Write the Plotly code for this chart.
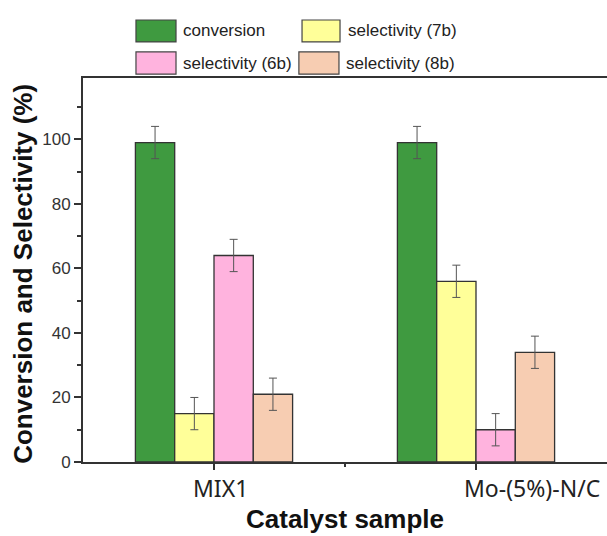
import plotly.graph_objects as go

# Catalyst samples and measured values (%)
samples = ["MIX1", "Mo-(5%)-N/C"]
series_names = ["conversion", "selectivity (7b)", "selectivity (6b)", "selectivity (8b)"]
conversion = [99, 99]
selectivity_7b = [15, 56]
selectivity_6b = [64, 10]
selectivity_8b = [21, 34]
errors = [5, 5]

series_values = [conversion, selectivity_7b, selectivity_6b, selectivity_8b]
colors = ["#3f9a40", "#ffff99", "#ffb3de", "#f7cdb2"]

x_pos = list(range(len(samples)))

fig = go.Figure()
for name, vals, col in zip(series_names, series_values, colors):
    fig.add_trace(go.Bar(
        x=x_pos, y=vals, name=name,
        marker=dict(color=col, line=dict(color="#333333", width=1.3)),
        error_y=dict(type="data", array=errors, color="#555555", thickness=1, width=4),
        showlegend=False,
    ))

fig.update_layout(
    width=607, height=536,
    margin=dict(l=83, r=0, t=78, b=74),
    paper_bgcolor="white", plot_bgcolor="white",
    barmode="group", bargap=0.4, bargroupgap=0,
    font=dict(family="Liberation Sans, Arial", color="#222222"),
)

fig.update_xaxes(
    range=[-0.5, 1.5],
    tickvals=x_pos, showticklabels=False,
    ticks="outside", ticklen=6, tickwidth=2, tickcolor="#333333",
    minor=dict(tickmode="array", tickvals=[0.5], ticks="outside", ticklen=3, tickwidth=2, tickcolor="#333333"),
    showline=True, linecolor="#333333", linewidth=2, mirror=True,
    showgrid=False, zeroline=False,
)
fig.update_yaxes(
    range=[0, 119], dtick=20, tick0=0,
    ticks="outside", ticklen=7, tickwidth=1.5, tickcolor="#333333",
    minor=dict(dtick=10, ticks="outside", ticklen=4, tickwidth=1.5, tickcolor="#333333"),
    tickfont=dict(size=17, family="Liberation Sans, Arial", color="#333333"),
    showline=True, linecolor="#333333", linewidth=2,
    showgrid=False, zeroline=False,
)

# Category labels under each group
label_shift = [6, 56]
for xi, lab, sh in zip(x_pos, samples, label_shift):
    fig.add_annotation(
        x=xi, y=0, xref="x", yref="paper", text=lab, showarrow=False,
        xanchor="center", yanchor="top", xshift=sh, yshift=-8,
        font=dict(size=23, family="Noto Sans", color="#222222"),
    )

# Axis titles
fig.add_annotation(
    x=0.5, y=0, xref="paper", yref="paper", text="<b>Catalyst sample</b>",
    showarrow=False, xanchor="center", yanchor="bottom", yshift=-73, borderpad=0,
    font=dict(size=26, family="Liberation Sans, Arial", color="#111111"),
)
fig.add_annotation(
    x=0, y=0.49, xref="paper", yref="paper", text="<b>Conversion and Selectivity (%)</b>",
    showarrow=False, textangle=-90, xanchor="center", yanchor="middle", xshift=-60,
    font=dict(size=26, family="Liberation Sans, Arial", color="#111111"),
)

# Two-column legend with large swatches
legend_boxes = [
    (0.1011, 0.1775, 1.094, 1.151),
    (0.418, 0.4905, 1.094, 1.151),
    (0.1011, 0.1775, 1.010, 1.068),
    (0.412, 0.4885, 1.010, 1.068),
]
legend_text_x = [0.187, 0.502, 0.187, 0.498]
for (x0, x1, y0, y1), tx, name, col in zip(legend_boxes, legend_text_x, series_names, colors):
    fig.add_shape(type="rect", xref="paper", yref="paper", x0=x0, x1=x1, y0=y0, y1=y1,
                  fillcolor=col, line=dict(color="#444444", width=1.2))
    fig.add_annotation(
        x=tx, y=(y0 + y1) / 2, xref="paper", yref="paper", text=name, showarrow=False,
        xanchor="left", yanchor="middle",
        font=dict(size=17, family="Liberation Sans, Arial", color="#222222"),
    )

fig.write_html("out.html")
